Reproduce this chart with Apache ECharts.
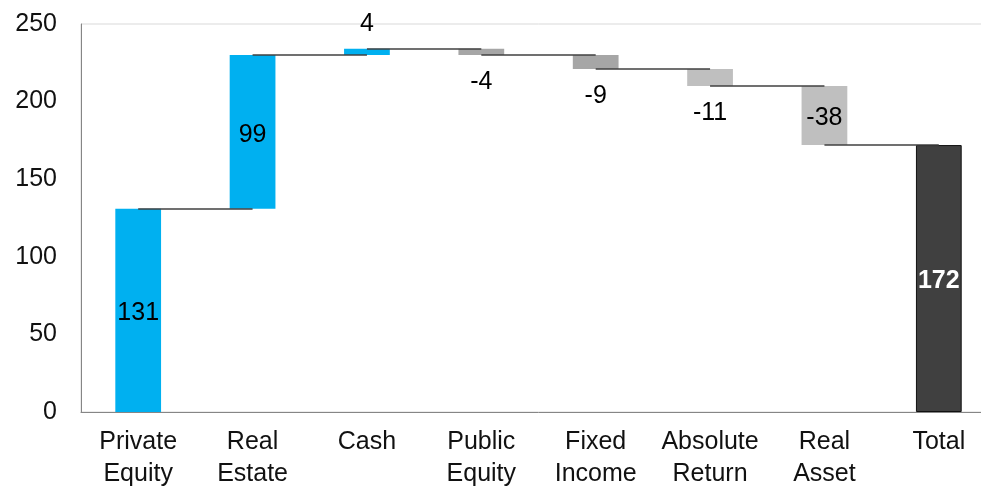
<!DOCTYPE html>
<html>
<head>
<meta charset="utf-8">
<script src="https://cdn.jsdelivr.net/npm/echarts@6/dist/echarts.min.js"></script>
<style>
html,body{margin:0;padding:0;background:#fff;overflow:hidden;}
#chart{width:997px;height:486px;}
</style>
</head>
<body>
<div id="chart"></div>
<script>
// ---- data ----
const categories = ['Private\nEquity', 'Real\nEstate', 'Cash', 'Public\nEquity', 'Fixed\nIncome', 'Absolute\nReturn', 'Real\nAsset', 'Total'];
const changes = [131, 99, 4, -4, -9, -11, -38];
const total = 172;
const yTicks = [0, 50, 100, 150, 200, 250];

// ---- styles ----
const barColors = ['#00B0F0', '#00B0F0', '#00B0F0', '#A6A6A6', '#A6A6A6', '#BFBFBF', '#BFBFBF', '#404040'];
const labelPos = ['inside', 'inside', 'top', 'bottom', 'bottom', 'bottom', 'inside', 'inside'];
const FS = 25;

// build waterfall pieces
const base = [], heights = [], levels = [];
let run = 0;
changes.forEach(function (c) {
  const next = run + c;
  base.push(Math.min(run, next));
  heights.push(Math.abs(c));
  run = next;
  levels.push(run);
});
base.push(0);
heights.push(total);
const labels = changes.map(String).concat([String(total)]);

const visData = heights.map(function (h, i) {
  const isTotal = i === categories.length - 1;
  const pos = labelPos[i];
  return {
    value: h,
    itemStyle: {
      color: barColors[i],
      borderColor: isTotal ? '#111' : barColors[i],
      borderWidth: isTotal ? 1 : 0
    },
    label: {
      show: true,
      position: pos,
      distance: pos === 'inside' ? 0 : (pos === 'bottom' ? 15 : 12),
      offset: pos === 'inside' ? [0, 3] : [0, 0],
      formatter: labels[i],
      color: isTotal ? '#fff' : '#000',
      fontWeight: isTotal ? 'bold' : 'normal'
    }
  };
});

const connectors = levels.map(function (lv, i) {
  return [{ coord: [i, lv] }, { coord: [i + 1, lv] }];
});

const chart = echarts.init(document.getElementById('chart'), null, { renderer: 'canvas' });
chart.setOption({
  animation: false,
  backgroundColor: '#fff',
  textStyle: { fontFamily: 'Liberation Sans, Arial, sans-serif' },
  grid: {
    left: 81, top: 24, right: 1, height: 388,
    outerBoundsMode: 'none', containLabel: false,
    show: true, borderColor: '#D9D9D9', borderWidth: 1, backgroundColor: 'transparent'
  },
  xAxis: {
    type: 'category',
    data: categories,
    axisLine: { lineStyle: { color: '#868686', width: 1 } },
    axisTick: { show: false },
    axisLabel: { fontSize: FS, color: '#111', lineHeight: 32, margin: 14, interval: 0, fontFamily: 'Liberation Sans' }
  },
  yAxis: {
    type: 'value',
    min: yTicks[0], max: yTicks[yTicks.length - 1], interval: yTicks[1] - yTicks[0],
    axisLine: { show: true, lineStyle: { color: '#868686', width: 1 } },
    axisTick: { show: false },
    splitLine: { show: false },
    axisLabel: { fontSize: FS, color: '#111', margin: 24, fontFamily: 'Liberation Sans' }
  },
  series: [
    {
      type: 'bar', stack: 'wf', data: base, barWidth: '40%',
      itemStyle: { color: 'transparent' }, silent: true
    },
    {
      type: 'bar', stack: 'wf', data: visData, barWidth: '40%',
      label: { fontSize: FS, fontFamily: 'Liberation Sans' }
    },
    {
      type: 'line', data: [], z: 10, silent: true,
      markLine: {
        silent: true, symbol: ['none', 'none'], animation: false,
        label: { show: false },
        lineStyle: { color: '#404040', width: 1.5, type: 'solid' },
        data: connectors
      }
    }
  ]
});
</script>
</body>
</html>
